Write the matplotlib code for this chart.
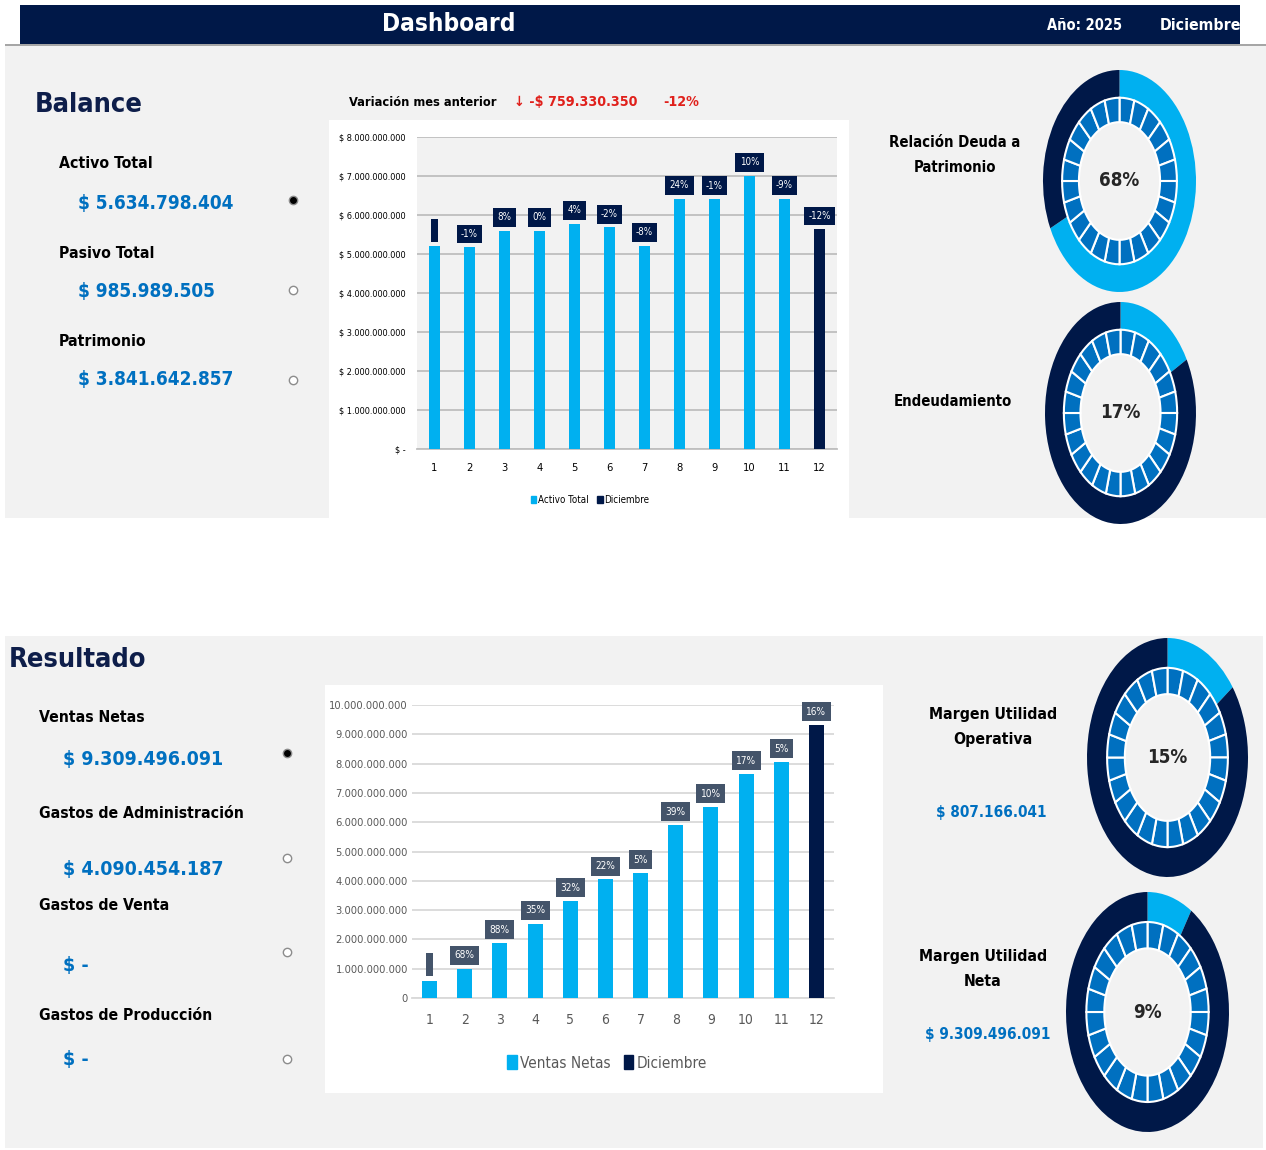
import matplotlib
matplotlib.use("Agg")
import matplotlib.pyplot as plt
from matplotlib.patches import Rectangle

W, H = 1266, 1150

# narrow look: DejaVu Sans Condensed
plt.rcParams['font.family'] = ['DejaVu Sans']
plt.rcParams['font.stretch'] = 'condensed'

NAVY = '#001848'
LBLUE = '#00B0F0'
MBLUE = '#0070C0'
SLATE = '#44546A'
RED = '#E0201B'
PANEL = '#F2F2F2'

# ---- data ----
meses = list(range(1, 13))
activo_total = [5.21e9, 5.17e9, 5.60e9, 5.60e9, 5.78e9, 5.68e9,
                5.21e9, 6.42e9, 6.41e9, 7.01e9, 6.42e9, 5634798404]
var_activo = ['', '-1%', '8%', '0%', '4%', '-2%', '-8%', '24%', '-1%', '10%', '-9%', '-12%']
stub_activo = (5.32e9, 5.89e9)   # small navy mark above month 1

ventas_netas = [0.58e9, 1.00e9, 1.88e9, 2.54e9, 3.30e9, 4.05e9,
                4.27e9, 5.90e9, 6.51e9, 7.64e9, 8.05e9, 9309496091]
var_ventas = ['', '68%', '88%', '35%', '32%', '22%', '5%', '39%', '10%', '17%', '5%', '16%']
stub_ventas = (0.74e9, 1.54e9)

balance_labels = ['Activo Total', 'Pasivo Total', 'Patrimonio']
balance_values = ['$ 5.634.798.404', '$ 985.989.505', '$ 3.841.642.857']
resultado_labels = ['Ventas Netas', 'Gastos de Administración', 'Gastos de Venta', 'Gastos de Producción']
resultado_values = ['$ 9.309.496.091', '$ 4.090.454.187', '$ -', '$ -']

razones = ['Relación Deuda a\nPatrimonio', 'Endeudamiento', 'Margen Utilidad\nOperativa', 'Margen Utilidad\nNeta']
razon_pct = [0.68, 0.17, 0.15, 0.09]
margen_valores = ['$ 807.166.041', '$ 9.309.496.091']


def box(x0, y0, x1, y1):
    return [x0 / W, 1 - y1 / H, (x1 - x0) / W, (y1 - y0) / H]


fig = plt.figure(figsize=(W / 100, H / 100), dpi=100)
fig.patch.set_facecolor('white')

# background canvas in pixel coordinates
bg = fig.add_axes([0, 0, 1, 1], zorder=0)
bg.set_xlim(0, W)
bg.set_ylim(H, 0)
bg.axis('off')

bg.add_patch(Rectangle((5, 45), 1261, 473, color=PANEL, lw=0))
bg.add_patch(Rectangle((5, 636), 1258, 512, color=PANEL, lw=0))
bg.add_patch(Rectangle((20, 5), 1220, 39, color=NAVY, lw=0))
bg.add_patch(Rectangle((5, 43.5), 1261, 2.5, color='#A6A6A6', lw=0))
bg.add_patch(Rectangle((329, 120), 520, 398, color='white', lw=0))
bg.add_patch(Rectangle((325, 685), 558, 408, color='white', lw=0))

# header
bg.text(449, 24, 'Dashboard', color='white', fontsize=17.5, fontweight='bold', ha='center', va='center')
bg.text(1085, 25, 'Año: 2025', color='white', fontsize=10.5, fontweight='bold', ha='center', va='center')
bg.text(1200, 25, 'Diciembre', color='white', fontsize=11.3, fontweight='bold', ha='center', va='center')

# Balance panel
bg.text(35, 105, 'Balance', color='#0E1E4A', fontsize=19.5, fontweight='bold', va='center')
for lab, val, yl, yv in zip(balance_labels, balance_values, [164, 254, 341], [204, 291, 379]):
    bg.text(59, yl, lab, color='black', fontsize=11.3, fontweight='bold', va='center')
    bg.text(78, yv, val, color=MBLUE, fontsize=13.6, fontweight='bold', va='center')
for i, y in enumerate([200, 290, 380]):
    bg.plot(293, y, 'o', ms=6, mfc='black' if i == 0 else 'white', mec='#8C8C8C', mew=1)

bg.text(349, 102, 'Variación mes anterior', color='black', fontsize=9.2, fontweight='bold', va='center')
bg.text(514, 102, '↓ -$ 759.330.350', color=RED, fontsize=10.3, fontweight='bold', va='center')
bg.text(663, 102, '-12%', color=RED, fontsize=10.3, fontweight='bold', va='center')

# Resultado panel
bg.text(9, 660, 'Resultado', color='#0E1E4A', fontsize=19.5, fontweight='bold', va='center')
for lab, val, yl, yv in zip(resultado_labels, resultado_values, [717, 813, 906, 1015], [759, 869, 965, 1059]):
    bg.text(39, yl, lab, color='black', fontsize=11.3, fontweight='bold', va='center')
    bg.text(63, yv, val, color=MBLUE, fontsize=14, fontweight='bold', va='center')
for i, y in enumerate([753, 858, 952, 1059]):
    bg.plot(287, y, 'o', ms=6, mfc='black' if i == 0 else 'white', mec='#8C8C8C', mew=1)

# ratio titles
bg.text(955, 155, razones[0], color='black', fontsize=10.7, fontweight='bold', ha='center', va='center',
        linespacing=1.9)
bg.text(953, 402, razones[1], color='black', fontsize=10.7, fontweight='bold', ha='center', va='center')
bg.text(993, 727, razones[2], color='black', fontsize=11.3, fontweight='bold', ha='center', va='center',
        linespacing=1.9)
bg.text(991, 813, margen_valores[0], color=MBLUE, fontsize=11, fontweight='bold', ha='center', va='center')
bg.text(983, 969, razones[3], color='black', fontsize=11.3, fontweight='bold', ha='center', va='center',
        linespacing=1.9)
bg.text(988, 1035, margen_valores[1], color=MBLUE, fontsize=11, fontweight='bold', ha='center', va='center')


def money_fmt(v, prefix):
    if v == 0:
        return prefix + '-' if prefix else '0'
    return prefix + f'{v:,.0f}'.replace(',', '.')


# ---- top bar chart ----
ax1 = fig.add_axes(box(417, 137, 837, 449), zorder=2)
ax1.set_facecolor(PANEL)
colors1 = [LBLUE] * 11 + [NAVY]
ax1.bar(meses, activo_total, width=0.34, color=colors1, zorder=3)
ax1.bar(1, stub_activo[1] - stub_activo[0], bottom=stub_activo[0], width=0.2, color=NAVY, zorder=3)
for m, v, t in zip(meses, activo_total, var_activo):
    if t:
        ax1.annotate(t, (m, v), xytext=(0, 6), textcoords='offset points', ha='center', va='bottom',
                     color='white', fontsize=7, zorder=5,
                     bbox=dict(boxstyle='square,pad=0.45', fc=NAVY, ec='none'))
ax1.set_xlim(0.5, 12.5)
ax1.set_ylim(0, 8e9)
yt = [i * 1e9 for i in range(9)]
ax1.set_yticks(yt)
ax1.set_yticklabels([money_fmt(v, '$ ') for v in yt], fontsize=6.6)
ax1.set_xticks(meses)
ax1.set_xticklabels([str(m) for m in meses], fontsize=8)
ax1.tick_params(length=0)
ax1.tick_params(axis='y', pad=8)
ax1.tick_params(axis='x', pad=10)
ax1.grid(axis='y', color='#BFBFBF', lw=1.3, zorder=0)
for s in ['top', 'right', 'left']:
    ax1.spines[s].set_visible(False)
ax1.spines['bottom'].set_color('#BFBFBF')
ax1.spines['bottom'].set_linewidth(1.3)
h1 = [Rectangle((0, 0), 1, 1, color=LBLUE), Rectangle((0, 0), 1, 1, color=NAVY)]
ax1.legend(h1, ['Activo Total', 'Diciembre'], loc='center', ncol=2, frameon=False, fontsize=7,
           bbox_to_anchor=(590 / W, 1 - 500 / H), bbox_transform=fig.transFigure,
           handlelength=0.6, handleheight=0.6, handletextpad=0.2, columnspacing=0.8)

# ---- bottom bar chart ----
ax2 = fig.add_axes(box(412, 705, 834, 998), zorder=2)
ax2.set_facecolor('white')
colors2 = [LBLUE] * 11 + [NAVY]
ax2.bar(meses, ventas_netas, width=0.43, color=colors2, zorder=3)
ax2.bar(1, stub_ventas[1] - stub_ventas[0], bottom=stub_ventas[0], width=0.2, color=SLATE, zorder=3)
for m, v, t in zip(meses, ventas_netas, var_ventas):
    if t:
        ax2.annotate(t, (m, v), xytext=(0, 6), textcoords='offset points', ha='center', va='bottom',
                     color='white', fontsize=7.2, zorder=5,
                     bbox=dict(boxstyle='square,pad=0.45', fc=SLATE, ec='none'))
ax2.set_xlim(0.5, 12.5)
ax2.set_ylim(0, 10e9)
yt2 = [i * 1e9 for i in range(11)]
ax2.set_yticks(yt2)
ax2.set_yticklabels([money_fmt(v, '') for v in yt2], fontsize=8, color='#595959')
ax2.set_xticks(meses)
ax2.set_xticklabels([str(m) for m in meses], fontsize=10, color='#595959')
ax2.tick_params(length=0)
ax2.tick_params(axis='y', pad=3)
ax2.tick_params(axis='x', pad=11)
ax2.grid(axis='y', color='#D9D9D9', lw=1.3, zorder=0)
for s in ['top', 'right', 'left']:
    ax2.spines[s].set_visible(False)
ax2.spines['bottom'].set_color('#D9D9D9')
ax2.spines['bottom'].set_linewidth(1.3)
h2 = [Rectangle((0, 0), 1, 1, color=LBLUE), Rectangle((0, 0), 1, 1, color=NAVY)]
leg2 = ax2.legend(h2, ['Ventas Netas', 'Diciembre'], loc='center', ncol=2, frameon=False, fontsize=11,
                  bbox_to_anchor=(607 / W, 1 - 1063 / H), bbox_transform=fig.transFigure,
                  handlelength=0.6, handleheight=1.0, handletextpad=0.2, columnspacing=0.9)
for t in leg2.get_texts():
    t.set_color('#595959')

# ---- donuts ----
donut_boxes = [(1043, 70, 1196, 292), (1045, 302, 1196, 524), (1087, 638, 1248, 877), (1066, 892, 1229, 1132)]
clip_bottom = [None, 518, None, None]
for (x0, y0, x1, y1), pct, cb in zip(donut_boxes, razon_pct, clip_bottom):
    yb = y1 if cb is None else cb
    ax = fig.add_axes(box(x0, y0, x1, yb), zorder=2)
    ax.pie([pct, 1 - pct], colors=[LBLUE, NAVY], startangle=90, counterclock=False, radius=1.0,
           wedgeprops=dict(width=0.26, edgecolor='none'))
    ax.pie([1] * 24, colors=[MBLUE] * 24, startangle=90, counterclock=False, radius=0.75,
           wedgeprops=dict(width=0.22, edgecolor='white', linewidth=1.5))
    ax.set_aspect('auto')
    ax.set_xlim(-1, 1)
    ax.set_ylim(1 - 2 * (yb - y0) / (y1 - y0), 1)
    ax.text(0, 0, f'{pct:.0%}', ha='center', va='center', fontsize=13.5, fontweight='bold', color='#262626')
    ax.axis('off')

fig.savefig('out.png', dpi=100, facecolor='white')
